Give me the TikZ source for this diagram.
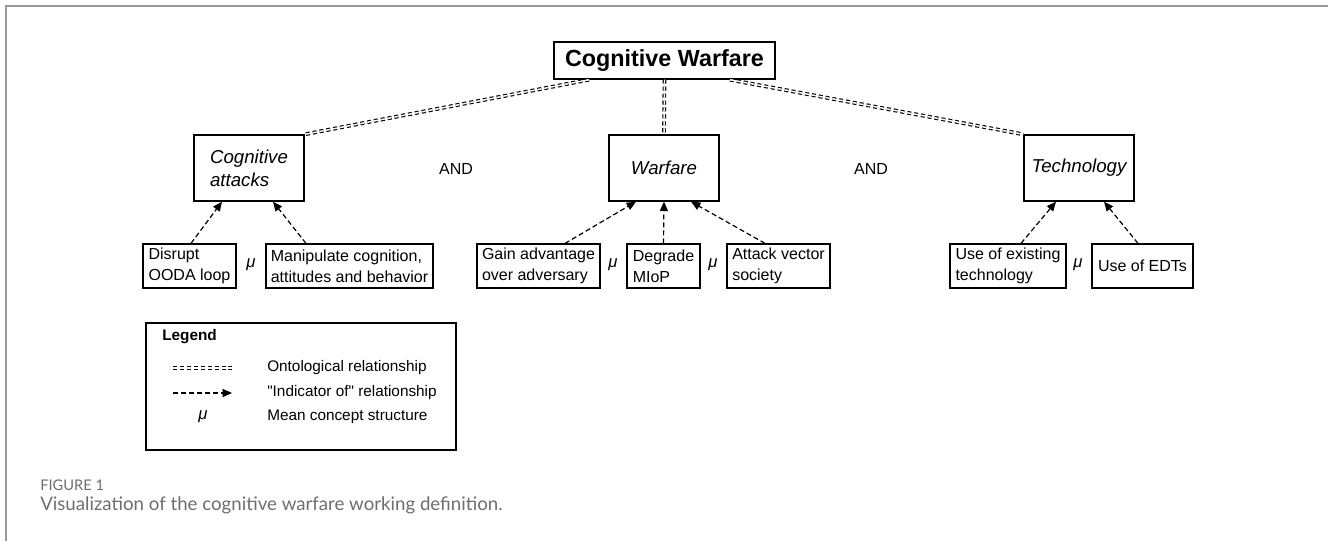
\documentclass[tikz,border=0pt]{standalone}
\usepackage{fontspec}
\setmainfont{Liberation Sans}
\newfontfamily\legfont{Liberation Sans}[Ligatures=TeXOff]
\newfontfamily\captionfont{Lato}
\usetikzlibrary{arrows.meta,positioning,calc}
\definecolor{framegray}{HTML}{999999}
\definecolor{capgray}{HTML}{6E6E6E}

\begin{document}
\begin{tikzpicture}[
  x=0.75pt, y=-0.75pt,
  topbox/.style={draw, line width=1.1pt, font=\fontsize{17.5}{20}\selectfont\bfseries, minimum width=165.75pt, minimum height=27.75pt, inner sep=0pt},
  concept/.style={draw, line width=1pt, align=left, font=\fontsize{14}{17.25}\selectfont\itshape, minimum width=82.5pt, minimum height=49.5pt, inner sep=0pt},
  leaf/.style={draw, line width=0.9pt, align=left, font=\fontsize{12}{15.5}\selectfont, minimum height=33pt, inner sep=0pt},
  mean/.style={font=\fontsize{12.5}{14}\selectfont\itshape, inner sep=0pt},
  conj/.style={font=\fontsize{12}{14}\selectfont, inner sep=0pt},
  legtext/.style={font=\legfont\fontsize{11.5}{14}\selectfont, anchor=west, inner sep=0pt},
  onto/.style={double, double distance=1.1pt, line width=0.85pt, dash pattern=on 3pt off 2.2pt},
  indicator/.style={-{Triangle[length=7pt,width=6pt]}, line width=0.9pt, dash pattern=on 3.8pt off 2.2pt}
]
\useasboundingbox (0,0) rectangle (1328,541);

% Frame
\draw[framegray, line width=1.5pt] (6,6) rectangle (1340,560);

% Top node
\node[topbox] (cw) at (664.5,60.5) {Cognitive Warfare};

% Concepts
\node[concept] (attacks) at (249,168) {Cognitive\\attacks};
\node[concept] (warfare) at (664,168) {Warfare};
\node[concept] (tech) at (1079,168) {Technology};
\node[conj] (and1) at (456,169) {AND};
\node[conj] (and2) at (871,169) {AND};

% Indicators
\node[leaf, minimum width=69.75pt] (ooda) at (189.5,266) {Disrupt\\OODA loop};
\node[mean] (mu1) at (251,265) {μ};
\node[leaf, minimum width=125.25pt] (manip) at (349.5,266) {Manipulate cognition,\\attitudes and behavior};
\node[leaf, minimum width=92.25pt] (gain) at (538.5,266) {Gain advantage\\over adversary};
\node[mean] (mu2) at (613,265) {μ};
\node[leaf, minimum width=54.75pt] (mlop) at (663.5,266) {Degrade\\MIoP};
\node[mean] (mu3) at (713,265) {μ};
\node[leaf, minimum width=77.25pt] (vector) at (778.5,266) {Attack vector\\society};
\node[leaf, minimum width=87pt] (existing) at (1008,266) {Use of existing\\technology};
\node[mean] (mu4) at (1078,265) {μ};
\node[leaf, minimum width=75.75pt] (edts) at (1142.5,266) {Use of EDTs};

% Ontological relationships
\draw[onto] ($(cw.south)+(-75.5,0)$) -- (attacks.north east);
\draw[onto] (cw.south) -- (warfare.north);
\draw[onto] ($(cw.south)+(65.5,0)$) -- (tech.north west);

% "Indicator of" relationships
\draw[indicator] ($(ooda.north)+(1.5,0)$) -- ($(attacks.south)+(-27,0)$);
\draw[indicator] ($(manip.north)+(-43.5,0)$) -- ($(attacks.south)+(24,0)$);
\draw[indicator] ($(gain.north)+(26.5,0)$) -- ($(warfare.south)+(-28,0)$);
\draw[indicator] (mlop.north) -- (warfare.south);
\draw[indicator] ($(vector.north)+(-13.5,0)$) -- ($(warfare.south)+(27,0)$);
\draw[indicator] ($(existing.north)+(13,0)$) -- ($(tech.south)+(-23,0)$);
\draw[indicator] ($(edts.north)+(-4.5,0)$) -- ($(tech.south)+(25,0)$);

% Legend
\node[draw, line width=0.8pt, minimum width=232.5pt, minimum height=95.25pt] (legend) at (301,386.5) {};
\node[font=\fontsize{11.5}{14}\selectfont\bfseries, anchor=west, inner sep=0pt] (legtitle) at (162,337) {Legend};
\coordinate (ontoA) at (173,368);
\coordinate (ontoB) at (232,368);
\coordinate (indA) at (173,393);
\coordinate (indB) at (232,393);
\draw[onto] (ontoA) -- (ontoB);
\draw[indicator] (indA) -- (indB);
\node[mean] (legmu) at (203,417) {μ};
\node[legtext] (legonto) at (267,368) {Ontological relationship};
\node[legtext] (legind) at (267,393) {"Indicator of" relationship};
\node[legtext] (legmean) at (267,417) {Mean concept structure};

% Caption
\node[anchor=west, inner sep=0pt, text=capgray, font=\captionfont\fontsize{11}{12}\selectfont] (fig) at (40,485) {FIGURE 1};
\node[anchor=west, inner sep=0pt, text=capgray, font=\captionfont\fontsize{14}{16}\selectfont] (caption) at (40,505) {Visualization of the cognitive warfare working definition.};

\end{tikzpicture}
\end{document}
